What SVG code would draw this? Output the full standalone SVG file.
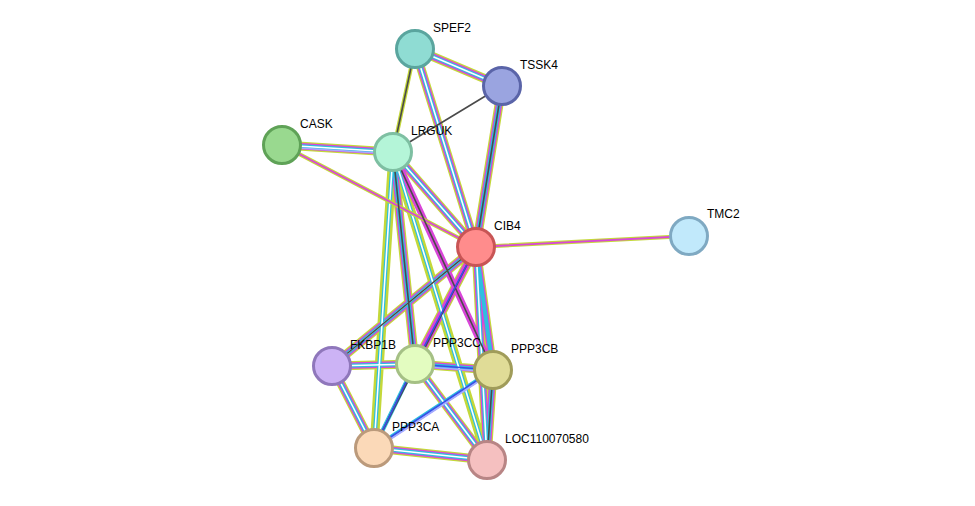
<svg xmlns="http://www.w3.org/2000/svg" width="975" height="506" viewBox="0 0 975 506">
<style>
.y{stroke:#c4d83a;stroke-width:9;fill:none}
.m{stroke:#d946d9;stroke-width:6.5;fill:none}
.c{stroke:#2ebfe0;stroke-width:4;fill:none}
.k{stroke:#4a4a4a;stroke-width:1.6;fill:none}
.b{stroke:#3a4ce8;stroke-width:1.6;fill:none}
.gap{stroke:#fff;stroke-width:1.6;fill:none}
circle{stroke-width:3}
text{font-family:"Liberation Sans",Arial,sans-serif;font-size:12px;fill:#000}
</style>
<rect width="975" height="506" fill="#fff"/>
<g id="connectors">
<!-- ymc edges -->
<path class="y" d="M415,49L502,86M415,49L476,247M393,152L476,247M502,86L476,247M282,145L393,152M332,366L415,364M332,366L374,448M476,247L487,460M415,364L487,460M374,448L487,460M493,370L487,460M476,247L493,370M476,247L332,366M393,152L415,364M393,152L374,448M393,152L487,460M415,364L493,370M476,247L415,364"/>
<path class="m" d="M415,49L502,86M415,49L476,247M393,152L476,247M502,86L476,247M282,145L393,152M332,366L415,364M332,366L374,448M476,247L487,460M415,364L487,460M374,448L487,460M493,370L487,460M476,247L493,370M476,247L332,366M393,152L415,364M393,152L493,370M415,364L493,370M476,247L415,364"/>
<path class="c" d="M415,49L502,86M415,49L476,247M393,152L476,247M502,86L476,247M282,145L393,152M332,366L415,364M332,366L374,448M476,247L487,460M415,364L487,460M374,448L487,460M493,370L487,460M476,247L493,370M476,247L332,366M393,152L415,364M393,152L374,448M393,152L487,460M415,364L493,370M415,364L374,448M493,370L374,448"/>
<path class="gap" d="M415,49L502,86M415,49L476,247M393,152L476,247M282,145L393,152M332,366L415,364M332,366L374,448M476,247L487,460M415,364L487,460M374,448L487,460M476,247L332,366M393,152L374,448M393,152L487,460"/>
<path class="y" d="M393,152L415,49M476,247L689,236M282,145L476,247" style="stroke-width:4"/>
<path class="m" d="M476,247L689,236M282,145L476,247" style="stroke-width:1.8"/>
<path class="k" d="M415,49L393,152M502,86L393,152M502,86L476,247M393,152L493,370M476,247L374,448M476,247L332,366M415,364L374,448M493,370L487,460M393,152L415,364"/>
<path class="b" d="M415,364L493,370M415,364L374,448M493,370L374,448M476,247L415,364"/>
<path d="M282,145L393,152M415,364L493,370M493,370L374,448" stroke="#a9a9ff" stroke-width="1.6" transform="translate(0,2)" fill="none"/>
</g>
<g id="SPEF2"><circle cx="415" cy="49" r="18.5" fill="#8fdcd3" stroke="#5aa59e"/><text x="433" y="32">SPEF2</text></g>
<g id="TSSK4"><circle cx="502" cy="86" r="18.5" fill="#9aa4e0" stroke="#5a64a8"/><text x="520" y="69">TSSK4</text></g>
<g id="CASK"><circle cx="282" cy="145" r="18.5" fill="#99d98f" stroke="#5fa257"/><text x="300" y="128">CASK</text></g>
<g id="LRGUK"><circle cx="393" cy="152" r="18.5" fill="#b4f5d8" stroke="#7ebfa2"/><text x="411" y="135">LRGUK</text></g>
<g id="CIB4"><circle cx="476" cy="247" r="18.5" fill="#ff8c8c" stroke="#c85555"/><text x="494" y="230">CIB4</text></g>
<g id="TMC2"><circle cx="689" cy="236" r="18.5" fill="#c1e9fb" stroke="#7fa9c2"/><text x="707" y="218">TMC2</text></g>
<g id="FKBP1B"><circle cx="332" cy="366" r="18.5" fill="#ccb3f5" stroke="#8f77bb"/><text x="350" y="349">FKBP1B</text></g>
<g id="PPP3CC"><circle cx="415" cy="364" r="18.5" fill="#e3fcc0" stroke="#a5c085"/><text x="433" y="347">PPP3CC</text></g>
<g id="PPP3CB"><circle cx="493" cy="370" r="18.5" fill="#e0dc97" stroke="#a09c5a"/><text x="511" y="353">PPP3CB</text></g>
<g id="PPP3CA"><circle cx="374" cy="448" r="18.5" fill="#fbd9b8" stroke="#bb9a7b"/><text x="392" y="431">PPP3CA</text></g>
<g id="LOC110070580"><circle cx="487" cy="460" r="18.5" fill="#f5c0c0" stroke="#b88585"/><text x="505" y="443">LOC110070580</text></g>
</svg>
